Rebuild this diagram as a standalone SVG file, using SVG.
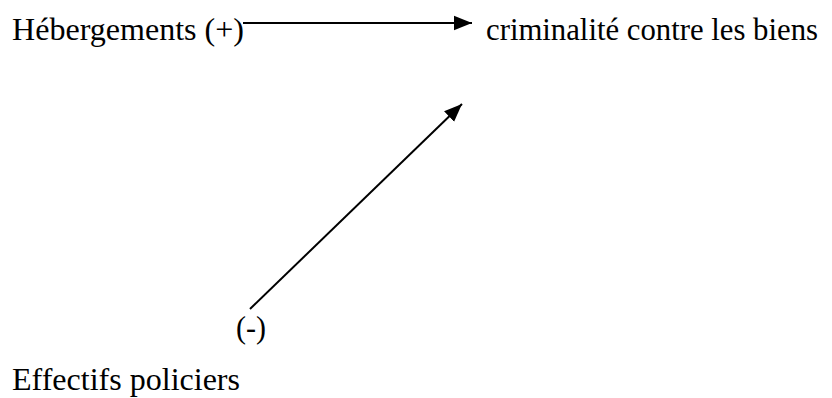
<svg xmlns="http://www.w3.org/2000/svg" width="832" height="398" viewBox="0 0 832 398">
<style>
text{font-family:"Liberation Serif","Times New Roman",serif;font-size:32px;fill:#000}
.c{stroke:#000;stroke-width:2;fill:none}
</style>
<defs>
<marker id="a" viewBox="0 0 10 10" refX="10" refY="5" markerWidth="18" markerHeight="18" markerUnits="userSpaceOnUse" orient="auto">
<path d="M0,1 L10,5 L0,9 Z" fill="#000"/>
</marker>
</defs>
<rect width="832" height="398" fill="#fff"/>
<g id="hebergements"><text x="12" y="40" textLength="232" lengthAdjust="spacingAndGlyphs">Hébergements (+)</text></g>
<g id="criminalite"><text x="486" y="40" textLength="332" lengthAdjust="spacingAndGlyphs">criminalité contre les biens</text></g>
<g id="effectifs"><text x="12" y="390" textLength="228" lengthAdjust="spacingAndGlyphs">Effectifs policiers</text></g>
<g id="connectors">
<line class="c" x1="243" y1="23" x2="472" y2="23" marker-end="url(#a)"/>
<line class="c" x1="250" y1="309" x2="462" y2="104" marker-end="url(#a)"/>
<text x="236" y="338" textLength="30" lengthAdjust="spacingAndGlyphs">(-)</text>
</g>
</svg>
